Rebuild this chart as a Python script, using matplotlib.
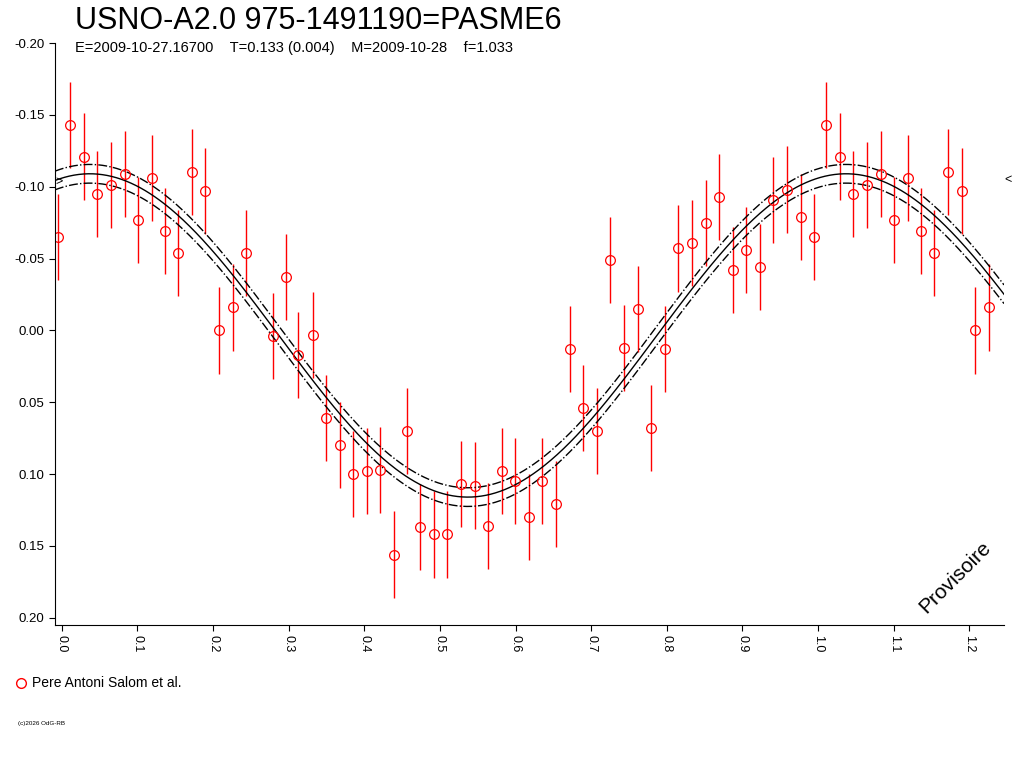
import numpy as np
import matplotlib
matplotlib.use("Agg")
import matplotlib.pyplot as plt
plt.rcParams['font.family'] = ['Liberation Sans', 'DejaVu Sans']

phase = [0.011,0.029,0.046,0.065,0.083,0.101,0.119,0.136,0.153,0.172,0.190,0.208,0.226,0.243,
         0.279,0.296,0.313,0.332,0.349,0.368,0.385,0.403,0.421,0.439,0.456,0.474,0.492,0.509,
         0.528,0.546,0.563,0.582,0.599,0.618,0.635,0.653,0.672,0.689,0.708,0.725,0.743,0.762,
         0.779,0.798,0.815,0.833,0.852,0.869,0.888,0.905,0.923,0.940,0.959,0.978,0.995]
mag = [-0.143,-0.121,-0.095,-0.101,-0.109,-0.077,-0.106,-0.069,-0.054,-0.110,-0.097,0.000,-0.016,-0.054,
       0.004,-0.037,0.017,0.003,0.061,0.080,0.100,0.098,0.097,0.156,0.070,0.137,0.142,0.142,
       0.107,0.108,0.136,0.098,0.105,0.130,0.105,0.121,0.013,0.054,0.070,-0.049,0.012,-0.015,
       0.068,0.013,-0.057,-0.061,-0.075,-0.093,-0.042,-0.056,-0.044,-0.091,-0.098,-0.079,-0.065]
err = 0.030
xmin, xmax = -0.009, 1.246
data_max = 1.235

fig = plt.figure(figsize=(10.24, 7.68), dpi=100)
ax = fig.add_axes([55/1024, 1-625/768, (1004-55)/1024, (625-43)/768])

ph = np.array(phase); mg = np.array(mag)
px, py = [], []
for s in (-1, 0, 1):
    sel = (ph + s >= xmin) & (ph + s <= data_max)
    px += list(ph[sel] + s); py += list(mg[sel])
ax.errorbar(px, py, yerr=err, fmt='o', mfc='none', mec='red', ecolor='red',
            ms=7, mew=0.9, elinewidth=1, capsize=0)

x = np.linspace(xmin, xmax, 600)
fit = 0.0035 - 0.1125*np.cos(2*np.pi*(x-0.037))
ax.plot(x, fit, 'k-', lw=1)
ax.plot(x, fit-0.0065, 'k-.', lw=1)
ax.plot(x, fit+0.0065, 'k-.', lw=1)

ax.set_xlim(xmin, xmax)
ax.set_ylim(0.205, -0.2)
ax.set_xticks(np.arange(0, 1.21, 0.1))
ax.set_xticklabels([f"{v:.1f}" for v in np.arange(0, 1.21, 0.1)], rotation=-90, fontsize=9)
ax.set_yticks(np.arange(-0.2, 0.201, 0.05))
ax.set_yticklabels([f"{v:.2f}" if abs(v) > 1e-9 else "0.00" for v in np.arange(-0.2, 0.201, 0.05)], fontsize=9.5)
for s in ('top', 'right'):
    ax.spines[s].set_visible(False)
ax.tick_params(direction='out', length=4)

ax.text(0.0, -0.103, '>', fontsize=9, ha='left', va='center', transform=ax.get_yaxis_transform())
fig.text(1008/1024, 1-180/768, '<', fontsize=9, ha='center', va='center')

fig.text(75/1024, 1-21/768, 'USNO-A2.0 975-1491190=PASME6', fontsize=22, va='center')
fig.text(75/1024, 1-48/768, 'E=2009-10-27.16700    T=0.133 (0.004)    M=2009-10-28    f=1.033',
         fontsize=10.5, va='center')
fig.text(955/1024, 1-577/768, 'Provisoire', fontsize=15, rotation=45, ha='center', va='center')
fig.lines.append(plt.Line2D([21/1024], [1-683/768], marker='o', mfc='none', mec='red', ms=7,
                            transform=fig.transFigure))
fig.text(32/1024, 1-683/768, 'Pere Antoni Salom et al.', fontsize=10, va='center')
fig.text(18/1024, 1-724/768, '(c)2026 OdG-RB', fontsize=4.5, va='center')

fig.savefig('out.png', dpi=100)
